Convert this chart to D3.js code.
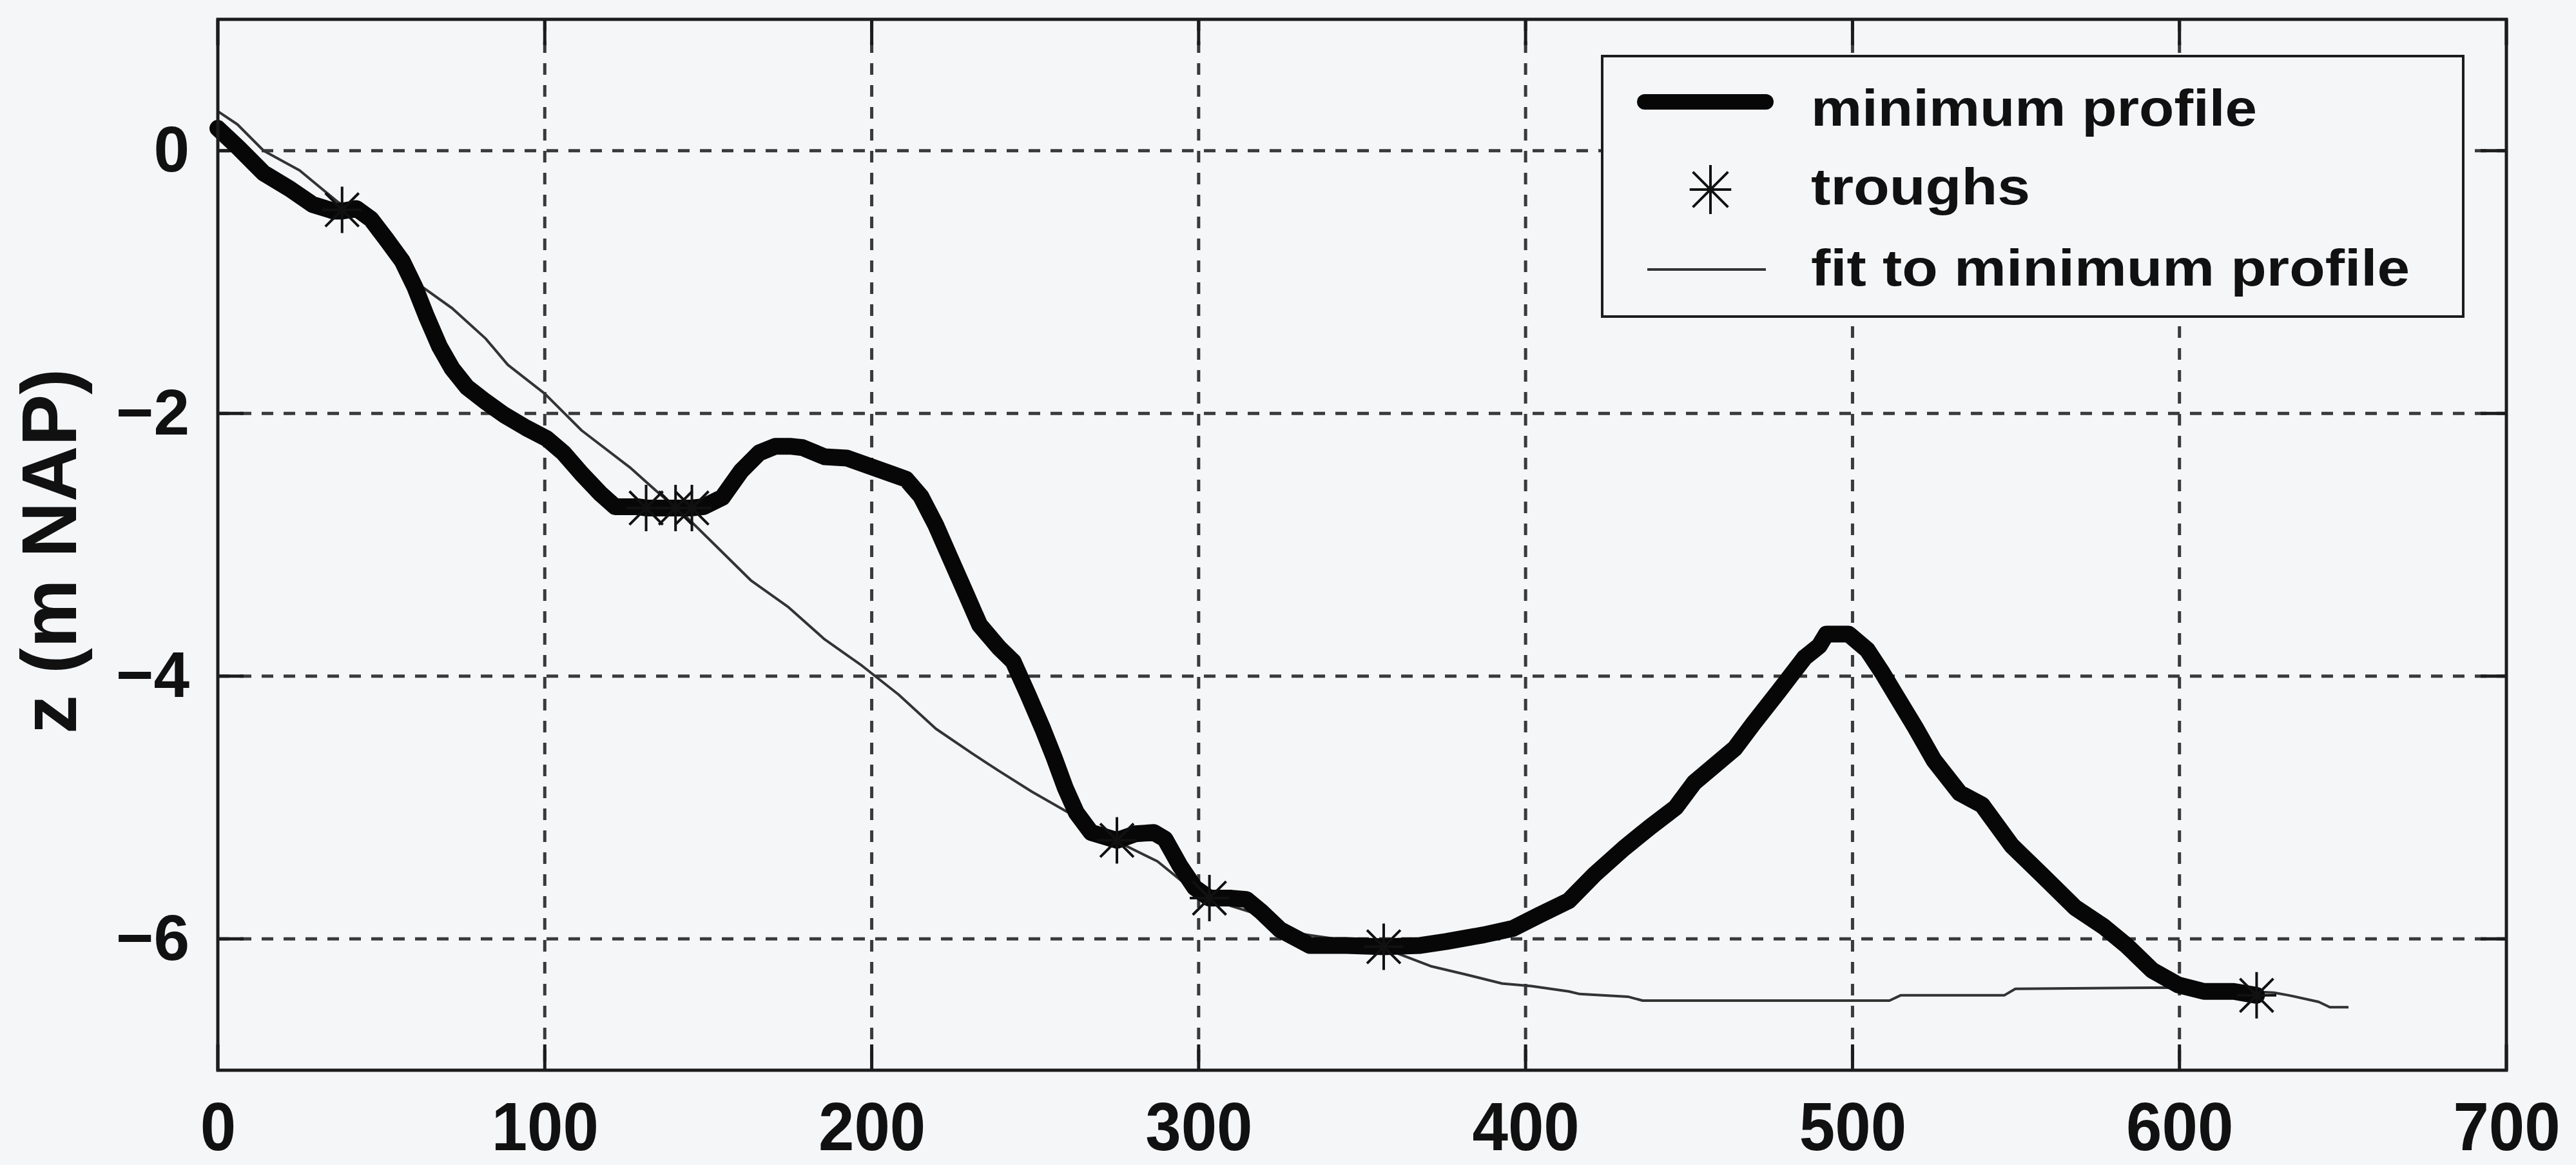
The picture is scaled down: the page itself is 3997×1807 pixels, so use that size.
<!DOCTYPE html>
<html>
<head>
<meta charset="utf-8">
<script src="https://cdn.jsdelivr.net/npm/d3@7"></script>
<style>
html, body { margin: 0; padding: 0; background: #f4f6f8; }
svg { display: block; }
text { font-family: "Liberation Sans", Arial, Helvetica, sans-serif; font-weight: bold; fill: #111; }
</style>
</head>
<body>
<script>
// ---------------- data (distance along profile in m, bed level in m NAP) ----------------
const profileD = [0, 6, 14, 22, 29, 35.5, 38, 42.4, 46.8, 51.4, 56.4, 60.3, 63.8, 67.8, 71.7, 76.2, 81.9, 87.5, 94.3, 100.5,
  105.7, 111.3, 117, 121.5, 128.3, 131, 139.6, 145, 148.6, 154.3, 160, 165.6, 170.5, 175, 178.8, 185.6, 192.4, 199.2, 206, 210.5,
  215, 219.6, 224, 228.6, 233, 238.8, 243.3, 247.8, 252.3, 255.8, 259.2, 262.6, 267.1, 275, 280.7, 286.3, 289.7, 294.2, 298.8, 303.3,
  310, 314.6, 319, 324.9, 334, 345.2, 356.6, 367.8, 375.7, 387.1, 396.2, 404.1, 413.2, 421.1, 430.1, 438, 445.9, 451.6, 464, 469.7,
  477.6, 485.3, 489.8, 492, 498.8, 504.5, 509, 513.6, 519.2, 524.9, 532.8, 539.6, 548.7, 557.8, 568, 577, 583.8, 591.7, 599.6, 607.5,
  616.6, 623.6];
const profileZ = [0.17, 0.03, -0.17, -0.29, -0.41, -0.46, -0.46, -0.44, -0.52, -0.67, -0.84, -1.04, -1.26, -1.49, -1.66, -1.80, -1.91, -2.01, -2.11, -2.19,
  -2.30, -2.46, -2.61, -2.71, -2.71, -2.72, -2.72, -2.72, -2.71, -2.64, -2.44, -2.30, -2.25, -2.25, -2.26, -2.33, -2.34, -2.40, -2.46, -2.50,
  -2.63, -2.85, -3.10, -3.36, -3.61, -3.78, -3.89, -4.14, -4.40, -4.62, -4.85, -5.04, -5.19, -5.25, -5.20, -5.19, -5.24, -5.44, -5.61, -5.69,
  -5.69, -5.70, -5.79, -5.93, -6.05, -6.05, -6.06, -6.05, -6.02, -5.97, -5.92, -5.82, -5.71, -5.51, -5.31, -5.15, -5.00, -4.81, -4.55, -4.36,
  -4.11, -3.86, -3.77, -3.68, -3.68, -3.80, -3.97, -4.16, -4.39, -4.64, -4.89, -4.98, -5.29, -5.51, -5.76, -5.91, -6.05, -6.24, -6.35, -6.40,
  -6.40, -6.43];

const fitD = [0, 6, 14, 25, 36.7, 45.7, 55.8, 62.7, 71.7, 81.9, 88.7, 100, 111.3, 126, 135, 143, 151.6, 163, 174.3, 185.6,
  197, 208.2, 219.6, 230.8, 238.8, 249, 260.3, 276, 287.4, 298.8, 310, 319, 330.6, 341.8, 356.6, 371.3, 381.5, 392.8, 401.8, 413.2,
  416.6, 431.3, 435.8, 511.3, 514.7, 546.4, 549.8, 598.5, 629, 633.5, 642.6, 646, 651.7];
const fitZ = [0.30, 0.20, 0.0, -0.15, -0.39, -0.56, -0.81, -1.04, -1.20, -1.43, -1.63, -1.85, -2.13, -2.41, -2.61, -2.78, -2.99, -3.27, -3.47, -3.72,
  -3.92, -4.14, -4.40, -4.59, -4.72, -4.88, -5.04, -5.27, -5.41, -5.64, -5.75, -5.82, -5.96, -6.00, -6.07, -6.21, -6.27, -6.34, -6.36, -6.40,
  -6.42, -6.44, -6.47, -6.47, -6.43, -6.43, -6.38, -6.37, -6.41, -6.43, -6.48, -6.52, -6.52];

const troughD = [38, 131, 140, 145, 275, 303.3, 356.6, 623.6];
const troughZ = [-0.45, -2.72, -2.72, -2.72, -5.25, -5.69, -6.06, -6.43];

const xTicks = [0, 100, 200, 300, 400, 500, 600, 700];
const yTicks = [0, -2, -4, -6];
const yLabel = "z (m NAP)";
const legendLabels = ["minimum profile", "troughs", "fit to minimum profile"];

// ---------------- layout ----------------
const W = 3997, H = 1807;
const plot = { left: 338, right: 3889, top: 30, bottom: 1660 };
const ink = "#1c1c1c";
const gridColor = "#3a3a3a";

const x = d3.scaleLinear().domain([0, 700]).range([plot.left, plot.right]);
const y = d3.scaleLinear().domain([-7, 1]).range([plot.bottom, plot.top]);

const svg = d3.select("body").append("svg").attr("width", W).attr("height", H);
svg.append("rect").attr("width", W).attr("height", H).attr("fill", "#f4f6f8");

// gridlines (dashed)
const grid = svg.append("g");
grid.selectAll(".vg").data(xTicks.filter(v => v > 0 && v < 700)).join("line")
  .attr("x1", d => x(d)).attr("x2", d => x(d))
  .attr("y1", plot.top).attr("y2", plot.bottom)
  .attr("stroke", gridColor).attr("stroke-width", 5).attr("stroke-dasharray", "18 16");
grid.selectAll(".hg").data(yTicks).join("line")
  .attr("x1", plot.left).attr("x2", plot.right)
  .attr("y1", d => y(d)).attr("y2", d => y(d))
  .attr("stroke", gridColor).attr("stroke-width", 5).attr("stroke-dasharray", "18 16");

// inward ticks on all four sides
const tl = 40;
const ticks = svg.append("g").attr("stroke", ink).attr("stroke-width", 5);
xTicks.forEach(v => {
  ticks.append("line").attr("x1", x(v)).attr("x2", x(v)).attr("y1", plot.bottom).attr("y2", plot.bottom - tl);
  ticks.append("line").attr("x1", x(v)).attr("x2", x(v)).attr("y1", plot.top).attr("y2", plot.top + tl);
});
yTicks.forEach(v => {
  ticks.append("line").attr("x1", plot.left).attr("x2", plot.left + tl).attr("y1", y(v)).attr("y2", y(v));
  ticks.append("line").attr("x1", plot.right).attr("x2", plot.right - tl).attr("y1", y(v)).attr("y2", y(v));
});

// fit line
const line = d3.line().x(d => x(d[0])).y(d => y(d[1]));
svg.append("path").datum(fitD.map((d, i) => [d, fitZ[i]]))
  .attr("d", line).attr("fill", "none").attr("stroke", "#333").attr("stroke-width", 4)
  .attr("stroke-linejoin", "round");

// minimum profile
svg.append("path").datum(profileD.map((d, i) => [d, profileZ[i]]))
  .attr("d", line).attr("fill", "none").attr("stroke", "#070707").attr("stroke-width", 26)
  .attr("stroke-linejoin", "round").attr("stroke-linecap", "round");

// asterisk markers
function star(r) {
  const a = r * 0.72;
  return `M0,${-r}V${r}M${-r * 0.85},0H${r * 0.85}M${-a},${-a}L${a},${a}M${-a},${a}L${a},${-a}`;
}
svg.append("g").selectAll("path").data(troughD.map((d, i) => [d, troughZ[i]])).join("path")
  .attr("transform", d => `translate(${x(d[0])},${y(d[1])})`)
  .attr("d", star(36)).attr("fill", "none").attr("stroke", "#111").attr("stroke-width", 4);

// frame
svg.append("rect").attr("x", plot.left).attr("y", plot.top)
  .attr("width", plot.right - plot.left).attr("height", plot.bottom - plot.top)
  .attr("fill", "none").attr("stroke", ink).attr("stroke-width", 5);

// axes labels via d3 axes
const xAxis = svg.append("g").attr("transform", `translate(0,${plot.bottom})`)
  .call(d3.axisBottom(x).tickValues(xTicks).tickSize(0).tickPadding(49).tickFormat(d3.format("d")));
xAxis.select(".domain").remove();
xAxis.selectAll("text").attr("font-size", 106).attr("fill", "#111")
  .style("font-family", '"Liberation Sans", Arial, sans-serif').style("font-weight", "bold")
  .each(function () {
    const len = this.getComputedTextLength();
    d3.select(this).attr("textLength", len * 0.94).attr("lengthAdjust", "spacingAndGlyphs");
  });

const yAxis = svg.append("g").attr("transform", `translate(${plot.left},0)`)
  .call(d3.axisLeft(y).tickValues(yTicks).tickSize(0).tickPadding(44).tickFormat(d3.format("d")));
yAxis.select(".domain").remove();
yAxis.selectAll("text").attr("font-size", 100).attr("fill", "#111")
  .style("font-family", '"Liberation Sans", Arial, sans-serif').style("font-weight", "bold");

// y axis title
svg.append("text").attr("transform", "translate(118,855) rotate(-90)")
  .attr("text-anchor", "middle").attr("font-size", 120).text(yLabel);

// legend
const lg = svg.append("g");
lg.append("rect").attr("x", 2486).attr("y", 87).attr("width", 3822 - 2486).attr("height", 491 - 87)
  .attr("fill", "#f4f6f8").attr("stroke", ink).attr("stroke-width", 4);
lg.append("line").attr("x1", 2552).attr("x2", 2740).attr("y1", 158).attr("y2", 158)
  .attr("stroke", "#070707").attr("stroke-width", 24).attr("stroke-linecap", "round");
lg.append("path").attr("transform", "translate(2654,294)").attr("d", star(38))
  .attr("fill", "none").attr("stroke", "#111").attr("stroke-width", 4);
lg.append("line").attr("x1", 2556).attr("x2", 2740).attr("y1", 418).attr("y2", 418)
  .attr("stroke", "#333").attr("stroke-width", 4);
const legendY = [195, 317, 443];
const legendLen = [692, 340, 929];
legendLabels.forEach((t, i) => {
  lg.append("text").attr("x", 2810).attr("y", legendY[i]).attr("font-size", 80)
    .attr("textLength", legendLen[i]).attr("lengthAdjust", "spacingAndGlyphs").text(t);
});
</script>
</body>
</html>
